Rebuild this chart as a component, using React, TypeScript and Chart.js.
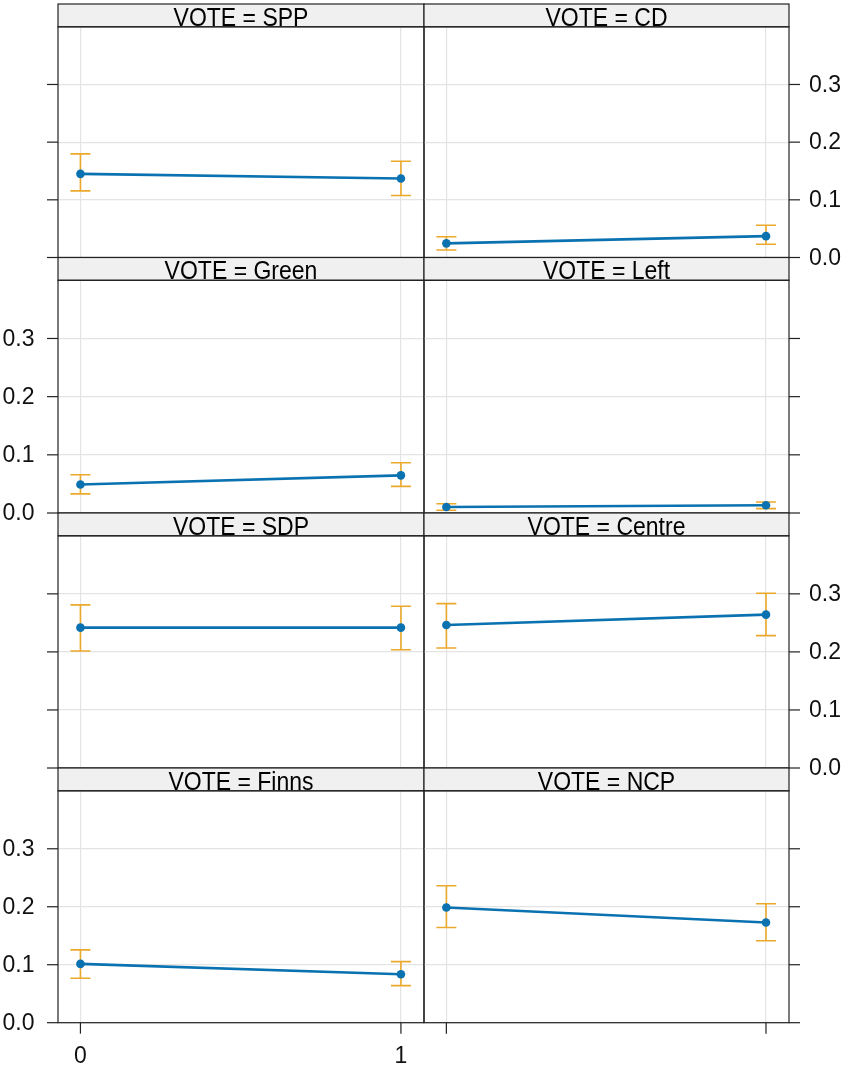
import React, { useEffect, useRef } from "react";
import { Chart, registerables } from "chart.js";

Chart.register(...registerables);

// ---------------- data ----------------
const panelNames = ["SPP", "CD", "Green", "Left", "SDP", "Centre", "Finns", "NCP"];
const xValues = [0, 1];
const fitAt0 = [0.145, 0.0245, 0.049, 0.0104, 0.2418, 0.2464, 0.1014, 0.1987];
const fitAt1 = [0.137, 0.037, 0.0647, 0.0133, 0.2418, 0.2642, 0.0836, 0.1728];
const lowerAt0 = [0.1156, 0.013, 0.0329, 0.0047, 0.2015, 0.2067, 0.0767, 0.1641];
const upperAt0 = [0.1796, 0.036, 0.0657, 0.016, 0.281, 0.2832, 0.1256, 0.2362];
const lowerAt1 = [0.1076, 0.023, 0.0457, 0.0076, 0.2038, 0.228, 0.064, 0.1413];
const upperAt1 = [0.167, 0.056, 0.0865, 0.019, 0.2786, 0.301, 0.1054, 0.2051];
const yTicks = [0, 0.1, 0.2, 0.3];
const yTickLabels = ["0.0", "0.1", "0.2", "0.3"];
const xTicks = [0, 1];
const xTickLabels = ["0", "1"];
const stripPrefix = "VOTE = ";

// ---------------- layout / style ----------------
const W = 845;
const H = 1072;
const colLeft = [58, 424];
const colRight = [424, 789];
const rowTop = [4, 257.5, 513, 768];
const rowBottom = [257.5, 513, 768, 1022.7];
const STRIP_H = 22.8;
const TICK_LEN = 11;
const X_MIN = -0.07;
const X_MAX = 1.072;
const Y_MIN = 0;
const Y_MAX = 0.4;
const FONT = '"Liberation Sans", Arial, Helvetica, sans-serif';
const LINE_BLUE = "#0a72b0";
const CI_ORANGE = "#eba92c";
const FRAME = "#222222";
const GRID = "#e4e4e4";
const STRIP_BG = "#f0f0f0";
const STRIP_TEXT_STRETCH = 1.15;

function Panel({ idx }: { idx: number }) {
  const ref = useRef<HTMLCanvasElement | null>(null);
  useEffect(() => {
    const canvas = ref.current;
    if (!canvas) return;
    const row = Math.floor(idx / 2);
    const col = idx % 2;
    const left = colLeft[col];
    const right = colRight[col];
    const top = rowTop[row] + STRIP_H;
    const bottom = rowBottom[row];

    const lows = [lowerAt0[idx], lowerAt1[idx]];
    const highs = [upperAt0[idx], upperAt1[idx]];
    const fits = [fitAt0[idx], fitAt1[idx]];

    const panelPlugin = {
      id: "panelDecor" + idx,
      beforeDatasetsDraw(chart: any) {
        const { ctx, scales } = chart;
        const xs = scales.x;
        const ys = scales.y;
        ctx.save();
        ctx.strokeStyle = CI_ORANGE;
        ctx.lineWidth = 1.6;
        xValues.forEach((xv, i) => {
          const px = xs.getPixelForValue(xv);
          const pLo = ys.getPixelForValue(lows[i]);
          const pHi = ys.getPixelForValue(highs[i]);
          ctx.beginPath();
          ctx.moveTo(px, pLo);
          ctx.lineTo(px, pHi);
          ctx.moveTo(px - 10, pLo);
          ctx.lineTo(px + 10, pLo);
          ctx.moveTo(px - 10, pHi);
          ctx.lineTo(px + 10, pHi);
          ctx.stroke();
        });
        ctx.restore();
      },
      afterDraw(chart: any) {
        const { ctx, chartArea: a, scales } = chart;
        const xs = scales.x;
        const ys = scales.y;
        const w = a.right - a.left;
        const st = a.top - STRIP_H;
        ctx.save();
        // strip
        ctx.fillStyle = STRIP_BG;
        ctx.fillRect(a.left, st, w, STRIP_H);
        ctx.save();
        ctx.beginPath();
        ctx.rect(a.left, st, w, STRIP_H);
        ctx.clip();
        ctx.fillStyle = "#000";
        ctx.font = `23px ${FONT}`;
        ctx.textAlign = "center";
        ctx.textBaseline = "alphabetic";
        ctx.translate((a.left + a.right) / 2, a.top - 1.3);
        ctx.scale(1, STRIP_TEXT_STRETCH);
        ctx.fillText(stripPrefix + panelNames[idx], 0, 0);
        ctx.restore();
        ctx.strokeStyle = FRAME;
        ctx.lineWidth = 1.2;
        ctx.strokeRect(a.left, st, w, STRIP_H);
        ctx.strokeRect(a.left, a.top, w, a.bottom - a.top);

        // y ticks
        ctx.font = `23px ${FONT}`;
        ctx.fillStyle = "#111";
        ctx.textBaseline = "middle";
        yTicks.forEach((v, i) => {
          const py = ys.getPixelForValue(v);
          ctx.beginPath();
          if (col === 0) {
            ctx.moveTo(a.left - TICK_LEN, py);
            ctx.lineTo(a.left, py);
          } else {
            ctx.moveTo(a.right, py);
            ctx.lineTo(a.right + TICK_LEN, py);
          }
          ctx.stroke();
          if (col === 0 && row % 2 === 1) {
            ctx.textAlign = "right";
            ctx.fillText(yTickLabels[i], a.left - 23.5, py + 1);
          }
          if (col === 1 && row % 2 === 0) {
            ctx.textAlign = "left";
            ctx.fillText(yTickLabels[i], a.right + 20, py + 1);
          }
        });

        // x ticks (bottom row only)
        if (row === 3) {
          xTicks.forEach((v, i) => {
            const px = xs.getPixelForValue(v);
            ctx.beginPath();
            ctx.moveTo(px, a.bottom);
            ctx.lineTo(px, a.bottom + TICK_LEN);
            ctx.stroke();
            if (col === 0) {
              ctx.textAlign = "center";
              ctx.fillText(xTickLabels[i], px, a.bottom + 34);
            }
          });
        }
        ctx.restore();
      },
    };

    const chart = new Chart(canvas, {
      type: "line",
      data: {
        datasets: [
          {
            data: xValues.map((x, i) => ({ x, y: fits[i] })),
            borderColor: LINE_BLUE,
            borderWidth: 2.6,
            pointRadius: 4.3,
            pointBackgroundColor: LINE_BLUE,
            pointBorderWidth: 0,
            tension: 0,
            clip: false as any,
          },
        ],
      },
      options: {
        animation: false,
        responsive: false,
        devicePixelRatio: 1,
        layout: {
          padding: { left, right: W - right, top, bottom: H - bottom },
        },
        plugins: {
          legend: { display: false },
          tooltip: { enabled: false },
        },
        scales: {
          x: {
            type: "linear",
            min: X_MIN,
            max: X_MAX,
            grid: { color: GRID, lineWidth: 1.2, drawTicks: false },
            border: { display: false },
            ticks: { display: false },
            afterBuildTicks: (s: any) => {
              s.ticks = xTicks.map((v) => ({ value: v }));
            },
            afterFit: (s: any) => {
              s.height = 0;
            },
          },
          y: {
            type: "linear",
            min: Y_MIN,
            max: Y_MAX,
            grid: { color: GRID, lineWidth: 1.2, drawTicks: false },
            border: { display: false },
            ticks: { display: false },
            afterBuildTicks: (s: any) => {
              s.ticks = yTicks.map((v) => ({ value: v }));
            },
            afterFit: (s: any) => {
              s.width = 0;
            },
          },
        },
      },
      plugins: [panelPlugin],
    });
    return () => chart.destroy();
  }, [idx]);

  return (
    <canvas
      ref={ref}
      width={W}
      height={H}
      style={{ position: "absolute", left: 0, top: 0, width: W, height: H }}
    />
  );
}

export default function App() {
  return (
    <div
      style={{
        position: "fixed",
        left: 0,
        top: 0,
        width: W,
        height: H,
        background: "#ffffff",
        overflow: "hidden",
      }}
    >
      {panelNames.map((_, i) => (
        <Panel key={i} idx={i} />
      ))}
    </div>
  );
}
